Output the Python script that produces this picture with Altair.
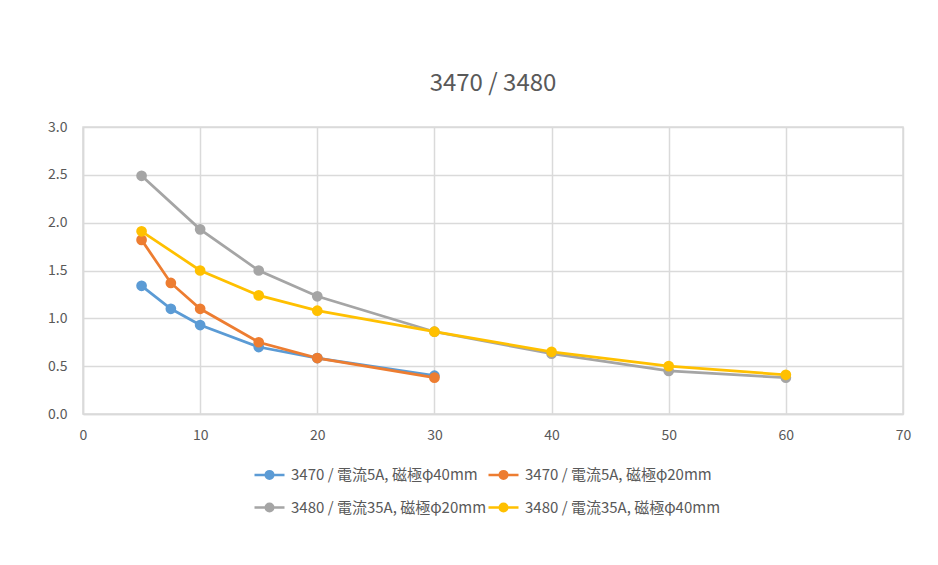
import altair as alt
import pandas as pd

series = [
    "3470 / 電流5A, 磁極φ40mm",
    "3470 / 電流5A, 磁極φ20mm",
    "3480 / 電流35A, 磁極φ20mm",
    "3480 / 電流35A, 磁極φ40mm",
]
colors = ["#5B9BD5", "#ED7D31", "#A5A5A5", "#FFC000"]

x_3470 = [5, 7.5, 10, 15, 20, 30]
y_3470_40 = [1.34, 1.10, 0.93, 0.70, 0.585, 0.40]
y_3470_20 = [1.82, 1.37, 1.10, 0.75, 0.585, 0.38]

x_3480 = [5, 10, 15, 20, 30, 40, 50, 60]
y_3480_20 = [2.49, 1.93, 1.50, 1.23, 0.86, 0.63, 0.45, 0.38]
y_3480_40 = [1.91, 1.50, 1.24, 1.08, 0.86, 0.65, 0.50, 0.41]

rows = []
for name, xs, ys in [
    (series[0], x_3470, y_3470_40),
    (series[1], x_3470, y_3470_20),
    (series[2], x_3480, y_3480_20),
    (series[3], x_3480, y_3480_40),
]:
    for xv, yv in zip(xs, ys):
        rows.append({"series": name, "x": xv, "y": yv})
df = pd.DataFrame(rows)

FONT = "Noto Sans CJK JP"
GRID = "#dadada"
TXT = "#595959"


def circ(r):
    return f"M{-r},0A{r},{r} 0 1,0 {r},0A{r},{r} 0 1,0 {-r},0"


legend_path = "M-3,0H3" + circ(0.75) + circ(0.5) + circ(0.25) + circ(0.08)

xenc = alt.X(
    "x:Q",
    scale=alt.Scale(domain=[0, 70], nice=False, zero=True),
    axis=alt.Axis(values=[0, 10, 20, 30, 40, 50, 60, 70], title=None, grid=True,
                  ticks=False, labelPadding=14, labelFontSize=14, labelColor=TXT,
                  labelFlush=False, domainColor=GRID, gridColor=GRID,
                  gridWidth=1.5, domainWidth=1.5, labelFont=FONT),
)
yenc = alt.Y(
    "y:Q",
    scale=alt.Scale(domain=[0, 3], nice=False),
    axis=alt.Axis(values=[0, 0.5, 1.0, 1.5, 2.0, 2.5, 3.0], format=".1f", title=None,
                  grid=True, ticks=False, labelPadding=16, labelFontSize=14,
                  labelFlush=False, labelColor=TXT, domainColor=GRID, gridColor=GRID,
                  gridWidth=1.5, domainWidth=1.5, labelFont=FONT),
)
cscale = alt.Scale(domain=series, range=colors)

lines = alt.Chart(df).mark_line(strokeWidth=2.75).encode(
    x=xenc, y=yenc,
    color=alt.Color(
        "series:N", scale=cscale, sort=series,
        legend=alt.Legend(
            title=None, orient="none", legendX=179, legendY=340, columns=2,
            direction="horizontal",
            symbolType=legend_path, symbolSize=100, symbolStrokeWidth=2.5,
            symbolOpacity=1, labelLimit=0,
            labelOffset=14, labelFontSize=15, labelColor=TXT, labelFont=FONT,
            columnPadding=-4, rowPadding=14, padding=0,
        ),
    ),
    detail="series:N",
)

points = alt.Chart(df).mark_circle(size=115, opacity=1).encode(
    x=xenc, y=yenc,
    color=alt.Color("series:N", scale=cscale, legend=None),
)

chart = alt.layer(lines, points).properties(
    width=820,
    height=287,
    autosize=alt.AutoSizeParams(type="none"),
    padding={"left": 75, "top": 119, "right": 27, "bottom": 143},
    title=alt.Title("3470 / 3480", fontSize=24, font=FONT, fontWeight="normal",
                    color=TXT, anchor="middle", offset=24),
    background="white",
).configure_view(stroke=GRID, strokeWidth=1.5)

chart.save("out.html", embed_options={"renderer": "svg", "actions": False})
